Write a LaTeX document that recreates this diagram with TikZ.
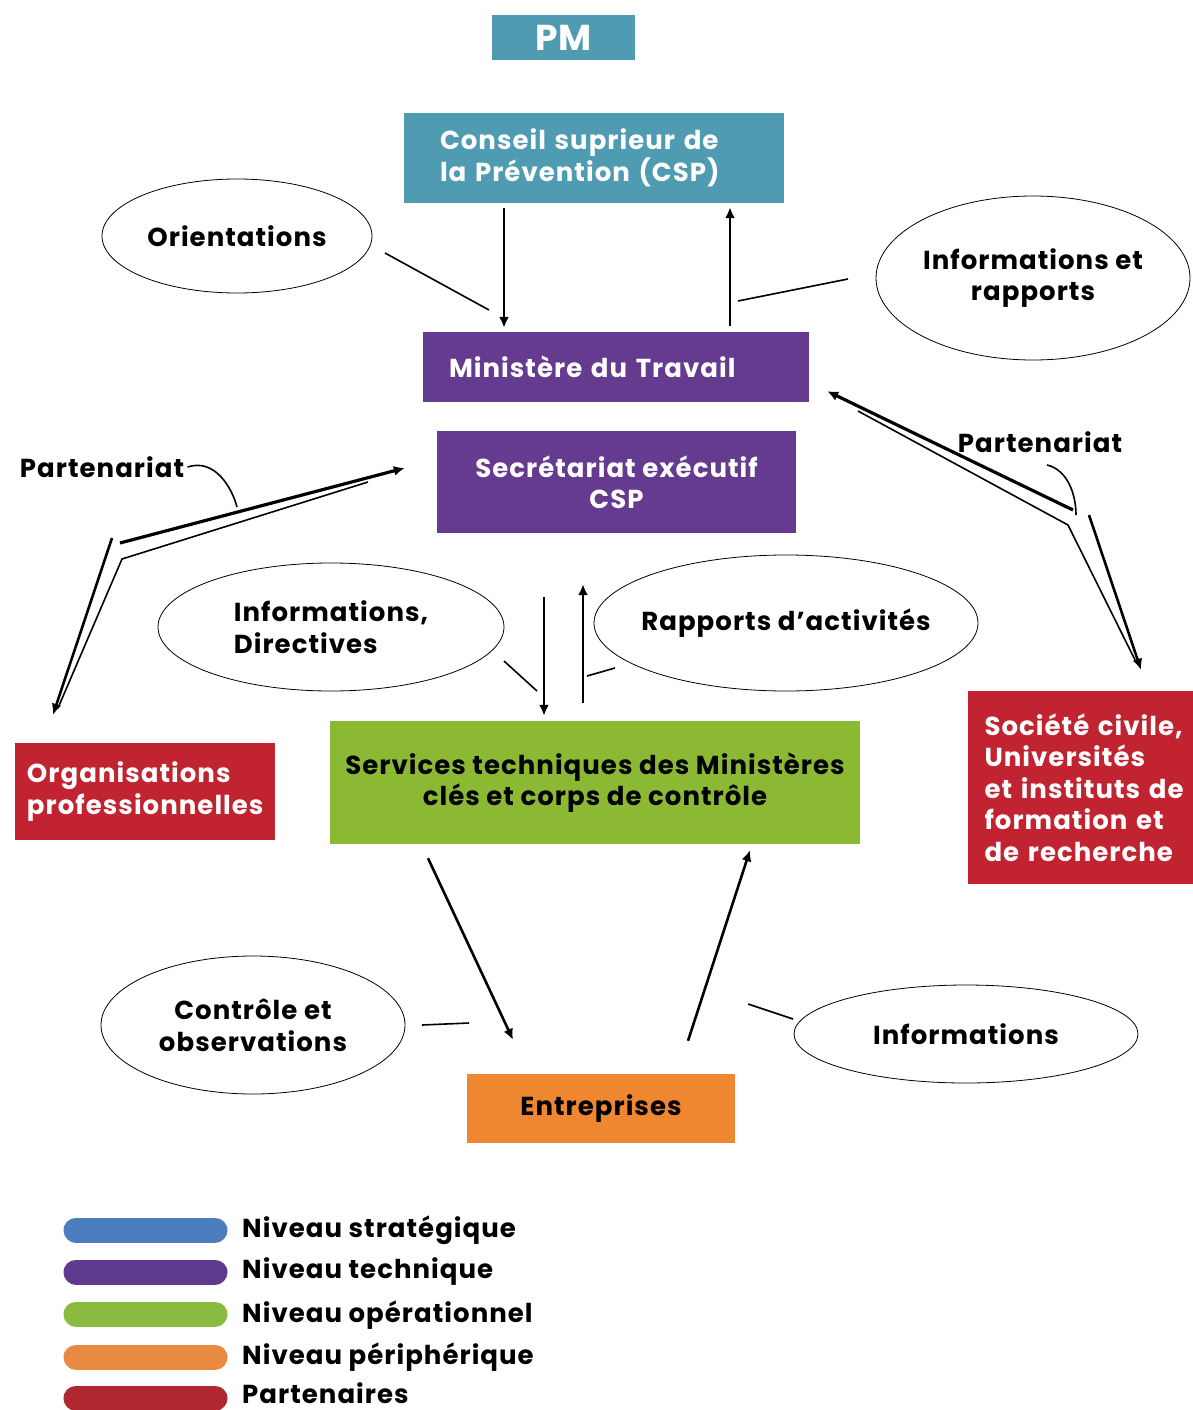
\documentclass[tikz,border=0pt]{standalone}
\usepackage{fontspec}
\setmainfont{Poppins}[LetterSpace=4]
\usetikzlibrary{shapes.geometric,arrows.meta,positioning}
\hyphenpenalty=10000
\exhyphenpenalty=10000

\definecolor{strat}{HTML}{4F9BB1}
\definecolor{tech}{HTML}{653B8F}
\definecolor{oper}{HTML}{8BB933}
\definecolor{peri}{HTML}{EF8630}
\definecolor{part}{HTML}{C22330}
\definecolor{legstrat}{HTML}{4C7EBF}
\definecolor{legtech}{HTML}{5F3A8D}
\definecolor{legoper}{HTML}{8BBA40}
\definecolor{legperi}{HTML}{E98A43}
\definecolor{legpart}{HTML}{B0282F}

\begin{document}
\begin{tikzpicture}[x=1pt, y=-1pt,
    every node/.style={font=\fontsize{26}{31.5}\selectfont\bfseries},
    box/.style={rectangle, inner sep=0, text=white, align=center},
    bulle/.style={ellipse, draw, line width=0.8, inner sep=-20, align=center},
    fleche/.style={line width=2.6, -{Latex[length=11, width=10]}},
    trait/.style={line width=1.6},
    barre/.style={line width=25, line cap=round},
    legende/.style={anchor=base west, inner sep=0}]
                \useasboundingbox (0,0) rectangle (1192,1410);

                % boites
                \node[box, fill=strat, minimum width=143, minimum height=45,
                      font=\fontsize{36}{40}\selectfont\bfseries] (pm) at (563.5,37.5) {PM};
                \node[box, fill=strat, minimum height=90, text width=308, inner xsep=36,
                      align=left] (csp) at (594,158) {Conseil suprieur de\\la Prévention (CSP)};
                \node[box, fill=tech, minimum height=70, text width=334, inner xsep=26,
                      align=left] (min) at (616,367) {Ministère du Travail};
                \node[box, fill=tech, minimum width=359, minimum height=102] (sec) at (616.5,482)
                      {Secrétariat exécutif\\CSP};
                \node[box, fill=oper, text=black, minimum width=530, minimum height=123] (serv)
                      at (595,782.5) {Services techniques des Ministères\\clés et corps de contrôle};
                \node[box, fill=peri, text=black, minimum width=268, minimum height=69] (ent)
                      at (601,1108.5) {Entreprises};
                \node[box, fill=part, minimum height=97, text width=236, inner xsep=12,
                      align=left] (org) at (145,791.5) {Organisations\\professionnelles};
                \node[box, fill=part, minimum height=193, text width=215, inner xsep=17,
                      align=left] (soc) at (1092,787.5)
                      {Société civile,\\Universités\\et instituts de\\formation et\\de recherche};

                % bulles
                \node[bulle, minimum width=270, minimum height=114] (ori) at (237,236) {Orientations};
                \node[bulle, minimum width=314, minimum height=164] (infr) at (1033,278)
                      {Informations et\\rapports};
                \node[bulle, minimum width=346, minimum height=128, align=left] (infd) at (331,627)
                      {Informations,\\Directives};
                \node[bulle, minimum width=384, minimum height=136] (rap) at (786,623)
                      {Rapports d’activités};
                \node[bulle, minimum width=304, minimum height=138] (ctrl) at (253,1025)
                      {Contrôle et\\observations};
                \node[bulle, minimum width=344, minimum height=98] (inf) at (966,1034) {Informations};

                % flux verticaux
                \draw[fleche] ([xshift=-90, yshift=-5]csp.south) -- ([xshift=-112, yshift=4]min.north);
                \draw[fleche] ([xshift=114, yshift=6]min.north) -- ([xshift=136, yshift=-4]csp.south);
                \draw[fleche] ([xshift=-72.5, yshift=-64]sec.south) -- ([xshift=-51, yshift=5]serv.north);
                \draw[fleche] ([xshift=-12, yshift=18]serv.north) -- ([xshift=-33.5, yshift=-51]sec.south);
                \draw[fleche] ([xshift=-167, yshift=-14]serv.south) -- ([xshift=-88, yshift=34]ent.north);
                \draw[fleche] ([xshift=87, yshift=33]ent.north) -- ([xshift=155, yshift=-6]serv.south);

                % renvois des bulles
                \draw[trait] (385,253) -- (489,310);
                \draw[trait] (848,279) -- (738,301);
                \draw[trait] (504,661) -- (537,691);
                \draw[trait] (587,676) -- (615,668);
                \draw[trait] (422,1025) -- (469,1023);
                \draw[trait] (748,1004) -- (793,1019);

                % Partenariat gauche
                \node (partg) at (102,467) {Partenariat};
                \coordinate (coudeg) at (120,543);
                \draw[fleche, line width=3.2] (coudeg) -- ([xshift=-32, yshift=14]sec.west);
                \draw[trait] (368,482) -- (122,559) -- (58,708);
                \draw[fleche] ([xshift=-8, yshift=5]coudeg) -- ([xshift=-92, yshift=28]org.north);
                \draw[trait] (partg.east) .. controls (215,458) and (232,488) .. (237,507);

                % Partenariat droite
                \node (partd) at (1040,442) {Partenariat};
                \coordinate (couded) at (1073,510);
                \draw[fleche, line width=3.2] (couded) -- ([xshift=18, yshift=11]min.south east);
                \draw[trait] (858,411) -- (1068,525) -- (1136,662);
                \draw[fleche] (1089,515) -- ([xshift=49, yshift=21]soc.north);
                \draw[trait] (1047,465) .. controls (1068,470) and (1076,495) .. (1076,515);

                % legende
                \draw[barre, color=legstrat] (76,1230) -- (215,1230);
                \draw[barre, color=legtech] (76,1272) -- (215,1272);
                \draw[barre, color=legoper] (76,1314) -- (215,1314);
                \draw[barre, color=legperi] (76,1357) -- (215,1357);
                \draw[barre, color=legpart] (76,1398) -- (215,1398);
                \node[legende] (l1) at (242,1237) {Niveau stratégique};
                \node[legende] (l2) at (242,1278) {Niveau technique};
                \node[legende] (l3) at (242,1322) {Niveau opérationnel};
                \node[legende] (l4) at (242,1364) {Niveau périphérique};
                \node[legende] (l5) at (242,1403) {Partenaires};
            \end{tikzpicture}
\end{document}
